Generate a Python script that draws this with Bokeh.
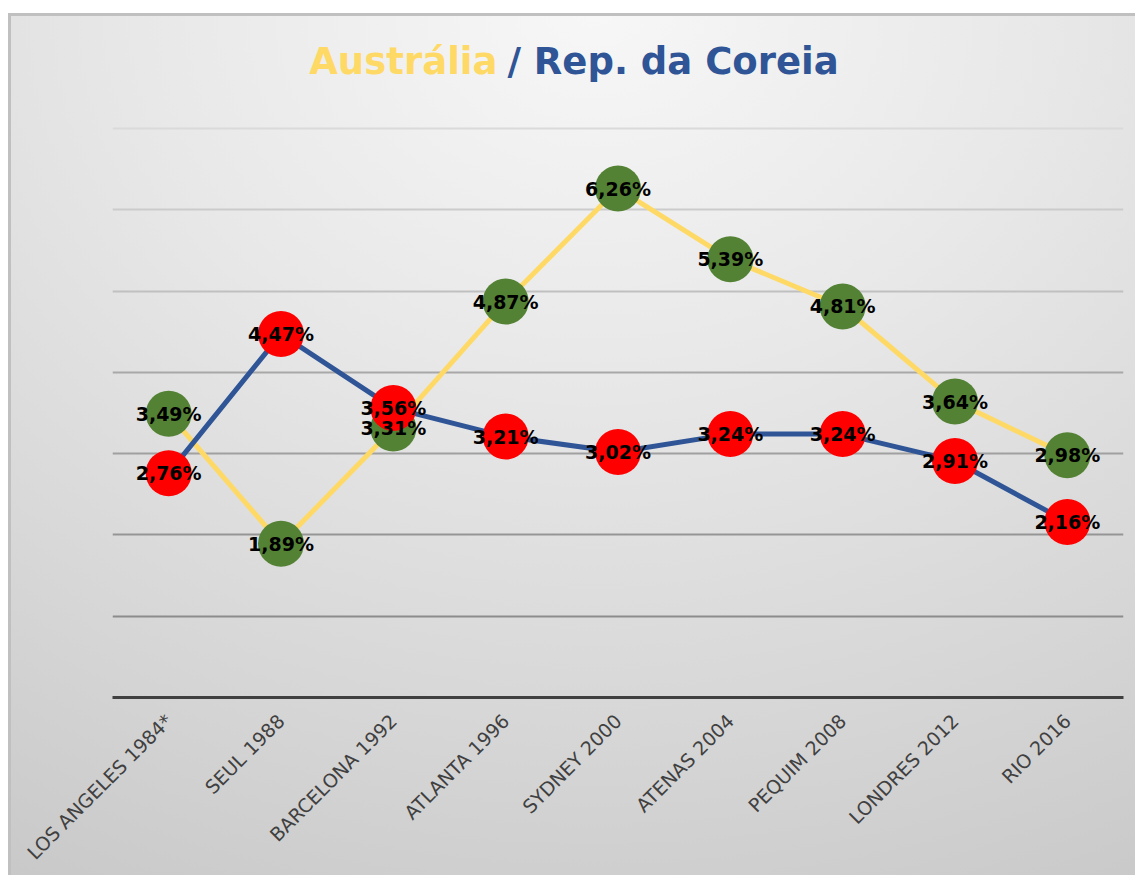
import math
from bokeh.plotting import figure
from bokeh.models import Range1d, Grid, FixedTicker, ColumnDataSource
from bokeh.core.properties import value
from bokeh.embed import file_html
from bokeh.resources import INLINE

categories = ["LOS ANGELES 1984*", "SEUL 1988", "BARCELONA 1992", "ATLANTA 1996",
              "SYDNEY 2000", "ATENAS 2004", "PEQUIM 2008", "LONDRES 2012", "RIO 2016"]
australia = [3.49, 1.89, 3.31, 4.87, 6.26, 5.39, 4.81, 3.64, 2.98]
coreia = [2.76, 4.47, 3.56, 3.21, 3.02, 3.24, 3.24, 2.91, 2.16]
grid_values = [1, 2, 3, 4, 5, 6, 7]
grid_colors = ["#8c8c8c", "#959595", "#a0a0a0", "#a8a8a8", "#c0c0c0", "#cbcbcb", "#dadada"]
title_parts = ["Austrália", "/ Rep. da Coreia"]
title_colors = ["#FFD966", "#2F5597"]

def fmt(v):
    return f"{v:.2f}".replace(".", ",") + "%"

src_au = ColumnDataSource(dict(x=categories, y=australia, t=[fmt(v) for v in australia]))
src_ko = ColumnDataSource(dict(x=categories, y=coreia, t=[fmt(v) for v in coreia]))

p = figure(x_range=categories, y_range=Range1d(0, 8.414), width=1127, height=862,
           output_backend="svg", toolbar_location=None, y_axis_location=None,
           min_border_left=104, min_border_right=12, min_border_top=0, min_border_bottom=178,
           background_fill_color=None, border_fill_color=None, outline_line_color=None)
p.margin = (13, 0, 0, 8)
p.styles = {
    "background": "radial-gradient(ellipse 115% 120% at 52% 0%, #f7f7f7 0%, #e8e8e8 35%, #d6d6d6 70%, #c6c6c6 100%)",
    "box-shadow": "inset 3px 3px 0 #c0c0c0",
}

p.grid.visible = False
for gv, gc in zip(grid_values, grid_colors):
    p.add_layout(Grid(dimension=1, ticker=FixedTicker(ticks=[gv]),
                      grid_line_color=gc, grid_line_width=2))

ax = p.xaxis[0]
ax.axis_line_color = "#404040"
ax.axis_line_width = 3
ax.major_tick_line_color = None
ax.minor_tick_line_color = None
ax.major_label_orientation = math.pi / 4
ax.major_label_text_font = "DejaVu Sans"
ax.major_label_text_font_size = "19px"
ax.major_label_text_color = "#404040"
ax.major_label_standoff = 14

p.line("x", "y", source=src_au, line_color="#FFD966", line_width=5)
p.scatter("x", "y", source=src_au, size=46, fill_color="#548235", line_color=None)
p.line("x", "y", source=src_ko, line_color="#2F5597", line_width=5)
p.scatter("x", "y", source=src_ko, size=46, fill_color="#FF0000", line_color=None)

for src in (src_au, src_ko):
    p.text("x", "y", text="t", source=src, text_align="center", text_baseline="middle",
           text_font_size="19px", text_font_style="bold", text_color="#000000",
           text_font=value("DejaVu Sans"))

# two-coloured title, meeting at the slash
p.text(x=[3.427], y=[7.823], text=[title_parts[0]], text_align="right",
       text_baseline="alphabetic", text_font=value("DejaVu Sans"), text_font_size="37px",
       text_font_style="bold", text_color=title_colors[0])
p.text(x=[3.516], y=[7.823], text=[title_parts[1]], text_align="left",
       text_baseline="alphabetic", text_font=value("DejaVu Sans"), text_font_size="37px",
       text_font_style="bold", text_color=title_colors[1])

open("out.html", "w").write(file_html(p, INLINE))
